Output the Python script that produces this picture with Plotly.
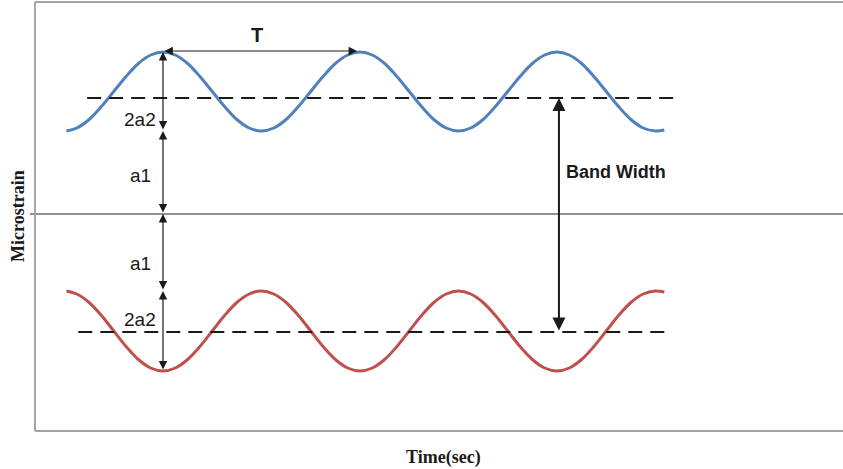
import plotly.graph_objects as go

# Upper (tension) strain signal: time in s, microstrain
blue_t = [0.02, 0.125, 0.25, 0.375, 0.5, 0.625, 0.75, 0.875, 1.0,
          1.125, 1.25, 1.375, 1.5, 1.625, 1.75, 1.875, 2.0,
          2.125, 2.25, 2.375, 2.5, 2.625, 2.75, 2.875, 3.0,
          3.125, 3.25, 3.375, 3.5, 3.625, 3.75, 3.875, 4.0,
          4.125, 4.25, 4.375, 4.5, 4.625, 4.75, 4.875, 5.0,
          5.125, 5.25, 5.375, 5.5, 5.625, 5.75, 5.875, 6.0, 6.09]
blue_y = [83, 86, 94.5, 107.5, 122.5, 137.5, 150.5, 159, 162,
          159, 150.5, 137.5, 122.5, 107.5, 94.5, 86, 83,
          86, 94.5, 107.5, 122.5, 137.5, 150.5, 159, 162,
          159, 150.5, 137.5, 122.5, 107.5, 94.5, 86, 83,
          86, 94.5, 107.5, 122.5, 137.5, 150.5, 159, 162,
          159, 150.5, 137.5, 122.5, 107.5, 94.5, 86, 83, 84]

# Lower (compression) strain signal
red_t = list(blue_t)
red_y = [-77, -80, -88.5, -101.5, -117, -132.5, -145.5, -154, -157,
         -154, -145.5, -132.5, -117, -101.5, -88.5, -80, -77,
         -80, -88.5, -101.5, -117, -132.5, -145.5, -154, -157,
         -154, -145.5, -132.5, -117, -101.5, -88.5, -80, -77,
         -80, -88.5, -101.5, -117, -132.5, -145.5, -154, -157,
         -154, -145.5, -132.5, -117, -101.5, -88.5, -80, -77, -78]

# Dashed reference levels (start, end time, level)
upper_level = [0.23, 6.19, 116]
lower_level = [0.14, 6.10, -118]

# Dimension markers
dim_t = 1.0            # time of the vertical a1 / 2a2 markers
upper_peak, upper_trough = 162, 83
lower_peak, lower_trough = -77, -157
band_t = 5.02
period_start, period_end, period_level = 1.0, 2.97, 163

x_range = [-0.2995, 7.904]
y_range = [-217, 212]

BLUE = "#4F81BD"
RED = "#C0504D"
INK = "#1a1a1a"
FRAME = "#a6a6a6"

fig = go.Figure()
fig.add_trace(go.Scatter(x=blue_t, y=blue_y, mode="lines",
                         line=dict(color=BLUE, width=3, shape="spline", smoothing=1.0),
                         hoverinfo="skip"))
fig.add_trace(go.Scatter(x=red_t, y=red_y, mode="lines",
                         line=dict(color=RED, width=3, shape="spline", smoothing=1.0),
                         hoverinfo="skip"))

for lvl in (upper_level, lower_level):
    fig.add_trace(go.Scatter(x=[lvl[0], lvl[1]], y=[lvl[2], lvl[2]], mode="lines",
                             line=dict(color=INK, width=2, dash="14px,8px"),
                             hoverinfo="skip"))

shapes = [
    # zero strain line
    dict(type="line", xref="paper", yref="y", x0=-5 / 808, x1=1, y0=0, y1=0,
         line=dict(color="#222222", width=1.2)),
    # frame
    dict(type="line", xref="paper", yref="paper", x0=0, x1=0, y0=0, y1=1,
         line=dict(color=FRAME, width=2)),
    dict(type="line", xref="paper", yref="paper", x0=0, x1=1, y0=1, y1=1,
         line=dict(color=FRAME, width=2)),
    dict(type="line", xref="paper", yref="paper", x0=0, x1=1, y0=0, y1=0,
         line=dict(color=FRAME, width=2)),
]


def dbl_arrow(x0, y0, x1, y1, width=1.2, size=1.4):
    return dict(x=x1, y=y1, ax=x0, ay=y0, xref="x", yref="y", axref="x", ayref="y",
                text="", showarrow=True, arrowside="end+start",
                arrowhead=2, startarrowhead=2, arrowsize=size, startarrowsize=size,
                arrowwidth=width, arrowcolor=INK, standoff=0, startstandoff=0)


annotations = [
    dbl_arrow(dim_t, upper_trough, dim_t, upper_peak),
    dbl_arrow(dim_t, 0, dim_t, upper_trough),
    dbl_arrow(dim_t, lower_peak, dim_t, 0),
    dbl_arrow(dim_t, lower_trough, dim_t, lower_peak),
    dbl_arrow(period_start, period_level, period_end, period_level),
    dbl_arrow(band_t, lower_level[2], band_t, upper_level[2], width=2, size=1.3),
]

label_font = dict(family="Liberation Sans, Arial, sans-serif", size=19, color=INK)
bold_font = dict(family="Liberation Sans, Arial, sans-serif", size=18, color=INK)
for txt, x, y in [("2a2", 0.767, 95), ("a1", 0.767, 39),
                  ("a1", 0.767, -49), ("2a2", 0.767, -105)]:
    annotations.append(dict(x=x, y=y, xref="x", yref="y", text=txt,
                            showarrow=False, font=label_font))
annotations.append(dict(x=1.954, y=179, xref="x", yref="y", text="<b>T</b>",
                        showarrow=False, font=dict(bold_font, size=20)))
annotations.append(dict(x=5.6, y=42, xref="x", yref="y", text="<b>Band Width</b>",
                        showarrow=False, font=bold_font))

title_font = dict(family="Liberation Serif, Times New Roman, serif", size=18, color="#1a1a1a")
annotations.append(dict(x=-17.5 / 808, y=0.5, xref="paper", yref="paper",
                        xanchor="center", yanchor="middle",
                        text="<b>Microstrain</b>", textangle=-90, showarrow=False,
                        font=title_font))
annotations.append(dict(x=408 / 808, y=-26 / 429, xref="paper", yref="paper",
                        xanchor="center", yanchor="middle",
                        text="<b>Time(sec)</b>", showarrow=False, font=title_font))

fig.update_layout(
    width=843, height=469,
    margin=dict(l=35, r=0, t=2, b=38),
    paper_bgcolor="white", plot_bgcolor="white",
    showlegend=False,
    shapes=shapes,
    annotations=annotations,
    xaxis=dict(range=x_range, visible=False, fixedrange=True),
    yaxis=dict(range=y_range, visible=False, fixedrange=True),
)

fig.write_html("out.html")
